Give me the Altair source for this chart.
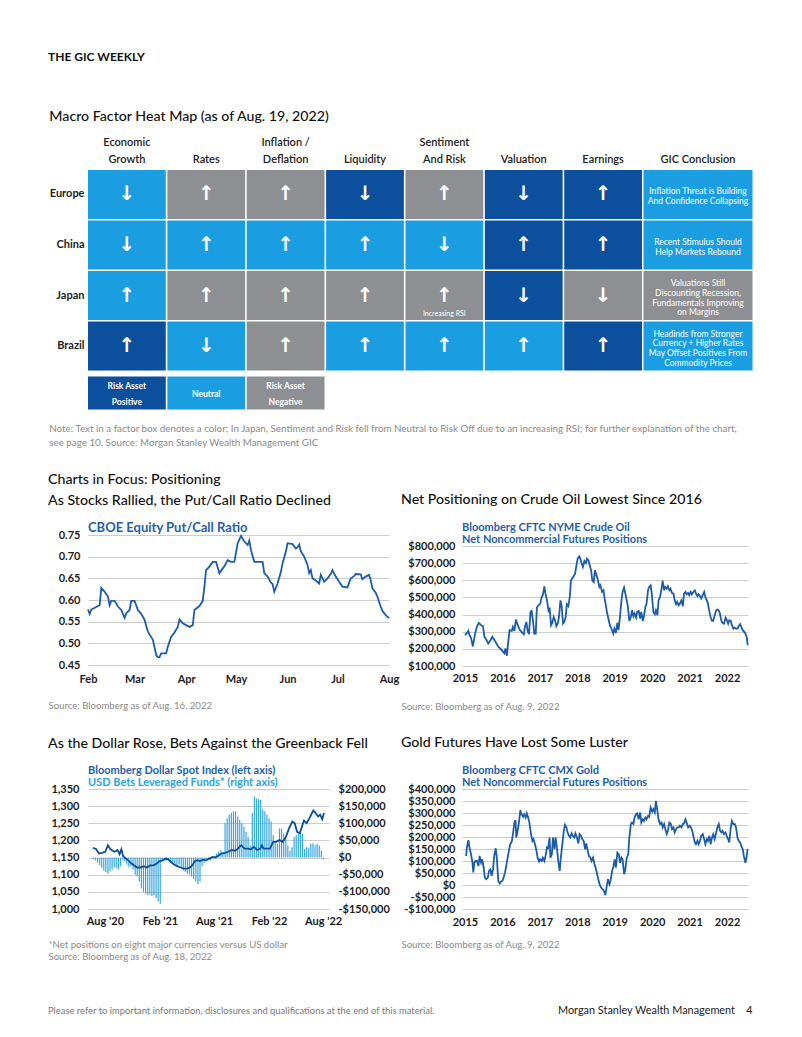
import altair as alt
import pandas as pd

DARK = "#0c4f9c"
LIGHT = "#1b9de2"
GRAY = "#8e8f93"
LINE = "#1d5ca8"
LEG = "#1f5fac"
FONT = "Lato"
NOTE_GRAY = "#8a8a8a"

# ---------------- Heat map ----------------
regions = ["Europe", "China", "Japan", "Brazil"]
factors = ["Economic|Growth", "Rates", "Inflation /|Deflation", "Liquidity",
           "Sentiment|And Risk", "Valuation", "Earnings"]
sig_europe = ["neu", "neg", "neg", "pos", "neg", "pos", "pos"]
sig_china = ["neu", "neu", "neu", "neu", "neu", "pos", "pos"]
sig_japan = ["neu", "neg", "neg", "neg", "neg", "pos", "neg"]
sig_brazil = ["pos", "neu", "neg", "neu", "neu", "neu", "pos"]
arr_europe = ["↓", "↑", "↑", "↓", "↑", "↓", "↑"]
arr_china = ["↓", "↑", "↑", "↑", "↓", "↑", "↑"]
arr_japan = ["↑", "↑", "↑", "↑", "↑", "↓", "↓"]
arr_brazil = ["↑", "↓", "↑", "↑", "↑", "↑", "↑"]
concl_signals = ["neu", "neu", "neg", "neu"]
conclusions = [
    "Inflation Threat is Building\nAnd Confidence Collapsing",
    "Recent  Stimulus Should\nHelp Markets Rebound",
    "Valuations Still\nDiscounting Recession,\nFundamentals Improving\non Margins",
    "Headinds from Stronger\nCurrency  + Higher Rates\nMay Offset Positives From\nCommodity Prices",
]
legend_labels = ["Risk Asset\nPositive", "Neutral", "Risk Asset\nNegative"]
legend_signals = ["pos", "neu", "neg"]
note_lines = [
    "Note: Text in a factor box denotes a color; In Japan, Sentiment and Risk fell from Neutral to Risk Off due to an increasing RSI; for further explanation of the chart,",
    "see page 10. Source: Morgan Stanley Wealth Management GIC",
]

rows = []
for r, sigs, arrs in zip(regions, [sig_europe, sig_china, sig_japan, sig_brazil],
                         [arr_europe, arr_china, arr_japan, arr_brazil]):
    for f, s, a in zip(factors, sigs, arrs):
        rows.append({"region": r, "factor": f, "signal": s, "arrow": a})
heat_df = pd.DataFrame(rows)
legend_df = pd.DataFrame({"region": ["legend"] * 3, "factor": factors[:3],
                          "signal": legend_signals, "label": legend_labels})
rsi_df = pd.DataFrame({"region": ["Japan"], "factor": ["Sentiment|And Risk"], "note": ["Increasing  RSI"]})
concl_df = pd.DataFrame({"region2": regions, "ccol": ["GIC Conclusion"] * 4,
                         "signal": concl_signals, "text": conclusions})
concl_df["lines"] = concl_df["text"].str.count("\n") + 1
legend_df["lines"] = legend_df["label"].str.count("\n") + 1

header_expr = "indexof(datum.label, '|') >= 0 ? split(datum.label, '|') : ['', datum.label]"
ydomain = regions + ["legend"]
color = alt.Color("signal:N", scale=alt.Scale(domain=["pos", "neu", "neg"], range=[DARK, LIGHT, GRAY]), legend=None)
xh = alt.X("factor:N", scale=alt.Scale(domain=factors, paddingInner=0.02, paddingOuter=0),
           axis=alt.Axis(orient="top", title=None, labelExpr=header_expr, labelAngle=0,
                         labelFontWeight=600, labelFontSize=11, labelLineHeight=17, labelPadding=23,
                         labelLimit=200, labelColor="#222"))
yh = alt.Y("region:N", scale=alt.Scale(domain=ydomain, paddingInner=0.03, paddingOuter=0),
           axis=alt.Axis(title=None, labelExpr="datum.label == 'legend' ? '' : datum.label",
                         labelFontWeight="bold", labelFontSize=11, labelPadding=4, labelColor="#222"))

cells = alt.Chart(heat_df).mark_rect().encode(x=xh, y=yh, color=color)
arrows = alt.Chart(heat_df).mark_text(font="DejaVu Sans", fontSize=20, fontWeight="bold", color="white").encode(
    x=xh, y=yh, text="arrow:N")
rsi = alt.Chart(rsi_df).mark_text(font=FONT, fontSize=7, color="white", dy=18).encode(x=xh, y=yh, text="note:N")
leg_rect = alt.Chart(legend_df).mark_rect(height=33, yOffset=-3.5).encode(x=xh, y=yh, color=color)
leg_text2 = alt.Chart(legend_df).transform_filter("datum.lines == 2").mark_text(
    font=FONT, fontSize=8.5, fontWeight="bold", color="white", lineBreak="\n", lineHeight=16, dy=-10.5
).encode(x=xh, y=yh, text="label:N")
leg_text1 = alt.Chart(legend_df).transform_filter("datum.lines == 1").mark_text(
    font=FONT, fontSize=8.5, fontWeight="bold", color="white", dy=-2.5
).encode(x=xh, y=yh, text="label:N")
factor_chart = alt.layer(cells, arrows, rsi, leg_rect, leg_text2, leg_text1).properties(width=554, height=251)

xc = alt.X("ccol:N", scale=alt.Scale(paddingInner=0, paddingOuter=0),
           axis=alt.Axis(orient="top", title=None, labelExpr=header_expr, labelAngle=0, labelFontWeight=600,
                         labelFontSize=11, labelLineHeight=17, labelPadding=23, labelColor="#222"))
yc = alt.Y("region2:N", scale=alt.Scale(domain=ydomain, paddingInner=0.03, paddingOuter=0), axis=None)
c_rect = alt.Chart(concl_df).mark_rect().encode(x=xc, y=yc, color=color)
c_text2 = alt.Chart(concl_df).transform_filter("datum.lines == 2").mark_text(
    font=FONT, fontSize=8.5, color="white", lineBreak="\n", lineHeight=9.8, dy=-3
).encode(x=xc, y=yc, text="text:N")
c_text4 = alt.Chart(concl_df).transform_filter("datum.lines == 4").mark_text(
    font=FONT, fontSize=8.5, color="white", lineBreak="\n", lineHeight=9.8, dy=-12.5
).encode(x=xc, y=yc, text="text:N")
concl_chart = alt.layer(c_rect, c_text2, c_text4).properties(width=109, height=251)

heat_inner = alt.hconcat(factor_chart, concl_chart, spacing=1.5,
                         title=alt.TitleParams(note_lines, orient="bottom", anchor="start", font=FONT, fontSize=9.8,
                                               fontWeight="normal", color=NOTE_GRAY, lineHeight=14, offset=3))
heat_block = alt.vconcat(heat_inner, title=alt.TitleParams("Macro Factor Heat Map (as of Aug. 19, 2022)",
                                                           anchor="start", font=FONT, fontSize=14.2,
                                                           fontWeight=500, color="#111", offset=12))

# ---------------- Put/Call ratio ----------------
pc_dates = ["2022-02-01", "2022-02-02", "2022-02-03", "2022-02-07", "2022-02-08", "2022-02-09", "2022-02-11",
            "2022-02-13", "2022-02-14", "2022-02-15", "2022-02-17", "2022-02-19", "2022-02-21", "2022-02-23",
            "2022-02-24", "2022-02-26", "2022-02-27", "2022-03-01", "2022-03-03", "2022-03-05", "2022-03-07",
            "2022-03-09", "2022-03-12", "2022-03-14", "2022-03-15", "2022-03-16", "2022-03-17", "2022-03-20",
            "2022-03-21", "2022-03-23", "2022-03-25", "2022-03-27", "2022-03-28", "2022-03-30", "2022-04-01",
            "2022-04-03", "2022-04-05", "2022-04-06", "2022-04-09", "2022-04-11", "2022-04-12", "2022-04-13",
            "2022-04-15", "2022-04-17", "2022-04-19", "2022-04-21", "2022-04-23", "2022-04-24", "2022-04-26",
            "2022-04-28", "2022-04-30", "2022-05-02", "2022-05-04", "2022-05-06", "2022-05-08", "2022-05-09",
            "2022-05-10", "2022-05-12", "2022-05-14", "2022-05-17", "2022-05-18", "2022-05-20", "2022-05-22",
            "2022-05-23", "2022-05-24", "2022-05-26", "2022-05-28", "2022-05-29", "2022-05-31", "2022-06-01",
            "2022-06-04", "2022-06-06", "2022-06-07", "2022-06-08", "2022-06-09", "2022-06-11", "2022-06-13",
            "2022-06-14", "2022-06-15", "2022-06-16", "2022-06-18", "2022-06-20", "2022-06-21", "2022-06-23",
            "2022-06-25", "2022-06-27", "2022-06-28", "2022-06-30", "2022-07-02", "2022-07-04", "2022-07-07",
            "2022-07-09", "2022-07-11", "2022-07-12", "2022-07-15", "2022-07-16", "2022-07-18", "2022-07-20",
            "2022-07-21", "2022-07-22", "2022-07-24", "2022-07-25", "2022-07-27", "2022-07-28", "2022-07-30",
            "2022-08-01"]
pc_values = [0.578, 0.568, 0.578, 0.586, 0.588, 0.628, 0.619, 0.608, 0.588, 0.598, 0.598, 0.585, 0.577, 0.559,
             0.569, 0.577, 0.598, 0.598, 0.577, 0.568, 0.554, 0.527, 0.508, 0.473, 0.468, 0.468, 0.477, 0.477,
             0.492, 0.515, 0.525, 0.538, 0.555, 0.546, 0.542, 0.538, 0.542, 0.577, 0.586, 0.598, 0.631, 0.669,
             0.677, 0.688, 0.688, 0.662, 0.673, 0.678, 0.692, 0.688, 0.688, 0.731, 0.748, 0.735, 0.727, 0.737,
             0.715, 0.688, 0.688, 0.688, 0.662, 0.654, 0.640, 0.637, 0.619, 0.638, 0.665, 0.685, 0.712, 0.731,
             0.729, 0.719, 0.722, 0.728, 0.712, 0.700, 0.681, 0.662, 0.669, 0.650, 0.645, 0.638, 0.658, 0.642,
             0.650, 0.660, 0.669, 0.654, 0.642, 0.631, 0.629, 0.650, 0.655, 0.660, 0.659, 0.648, 0.654, 0.658,
             0.646, 0.627, 0.617, 0.608, 0.585, 0.575, 0.565, 0.558]
pc_ticks = [0.45, 0.50, 0.55, 0.60, 0.65, 0.70, 0.75]

# ---------------- Crude oil positioning ----------------
oil_year = [2015.00, 2015.04, 2015.09, 2015.12, 2015.16, 2015.21, 2015.27, 2015.32, 2015.37, 2015.43, 2015.48,
            2015.52, 2015.57, 2015.62, 2015.68, 2015.73, 2015.79, 2015.84, 2015.89, 2015.94, 2016.00, 2016.05,
            2016.08, 2016.12, 2016.15, 2016.19, 2016.25, 2016.28, 2016.32, 2016.36, 2016.41, 2016.46, 2016.51,
            2016.57, 2016.60, 2016.64, 2016.67, 2016.71, 2016.75, 2016.78, 2016.82, 2016.85, 2016.89, 2016.92,
            2016.96, 2017.01, 2017.05, 2017.08, 2017.12, 2017.15, 2017.19, 2017.23, 2017.26, 2017.30, 2017.33,
            2017.37, 2017.41, 2017.44, 2017.48, 2017.51, 2017.55, 2017.58, 2017.62, 2017.65, 2017.69, 2017.72,
            2017.76, 2017.80, 2017.83, 2017.89, 2017.94, 2017.97, 2018.01, 2018.05, 2018.08, 2018.12, 2018.15,
            2018.19, 2018.23, 2018.26, 2018.30, 2018.33, 2018.37, 2018.40, 2018.44, 2018.47, 2018.54, 2018.59,
            2018.62, 2018.66, 2018.70, 2018.73, 2018.77, 2018.80, 2018.84, 2018.87, 2018.92, 2018.96, 2018.99,
            2019.03, 2019.07, 2019.10, 2019.14, 2019.18, 2019.21, 2019.25, 2019.28, 2019.32, 2019.35, 2019.39,
            2019.43, 2019.46, 2019.50, 2019.53, 2019.57, 2019.60, 2019.64, 2019.68, 2019.71, 2019.75, 2019.78,
            2019.82, 2019.85, 2019.89, 2019.92, 2019.96, 2019.99, 2020.03, 2020.07, 2020.10, 2020.14, 2020.17,
            2020.21, 2020.25, 2020.28, 2020.32, 2020.35, 2020.39, 2020.42, 2020.46, 2020.49, 2020.53, 2020.57,
            2020.60, 2020.64, 2020.67, 2020.71, 2020.74, 2020.78, 2020.82, 2020.85, 2020.89, 2020.92, 2020.96,
            2020.99, 2021.03, 2021.06, 2021.10, 2021.14, 2021.17, 2021.21, 2021.24, 2021.28, 2021.31, 2021.35,
            2021.39, 2021.42, 2021.46, 2021.49, 2021.53, 2021.56, 2021.60, 2021.63, 2021.67, 2021.71, 2021.74,
            2021.78, 2021.81, 2021.85, 2021.88, 2021.92, 2021.96, 2021.99, 2022.03, 2022.06, 2022.10, 2022.13,
            2022.17, 2022.20, 2022.24, 2022.28, 2022.31, 2022.35, 2022.38, 2022.42, 2022.46, 2022.49, 2022.53,
            2022.55]
oil_pos = [280, 290, 305, 280, 266, 215, 289, 332, 351, 338, 332, 270, 254, 231, 250, 270, 250, 231, 212, 202,
           188, 173, 202, 160, 231, 309, 305, 328, 305, 371, 338, 313, 299, 285, 328, 357, 309, 285, 416, 421,
           357, 289, 289, 441, 454, 464, 503, 513, 565, 522, 483, 425, 441, 338, 351, 386, 363, 332, 348, 386,
           483, 454, 348, 357, 386, 460, 449, 503, 600, 619, 639, 678, 726, 740, 726, 697, 678, 713, 701, 726,
           716, 687, 658, 600, 590, 658, 610, 561, 571, 532, 542, 493, 445, 406, 367, 338, 313, 289, 318, 293,
           351, 309, 386, 483, 532, 557, 526, 483, 449, 363, 386, 425, 390, 406, 382, 416, 421, 377, 416, 363,
           390, 445, 464, 542, 561, 571, 522, 416, 402, 425, 396, 483, 503, 551, 596, 542, 561, 551, 565, 542,
           551, 526, 522, 483, 460, 474, 454, 464, 483, 449, 522, 532, 518, 526, 513, 532, 518, 532, 542, 522,
           507, 518, 507, 493, 513, 532, 503, 483, 464, 416, 386, 363, 363, 396, 425, 429, 425, 406, 363, 351,
           347, 382, 371, 347, 367, 363, 338, 318, 324, 318, 318, 332, 344, 328, 309, 299, 289, 266, 221]

# ---------------- Gold positioning ----------------
gold_year = [2015.03, 2015.05, 2015.09, 2015.12, 2015.16, 2015.20, 2015.22, 2015.25, 2015.28, 2015.32, 2015.36,
             2015.39, 2015.43, 2015.46, 2015.50, 2015.53, 2015.57, 2015.61, 2015.64, 2015.68, 2015.71, 2015.75,
             2015.78, 2015.82, 2015.85, 2015.89, 2015.93, 2015.96, 2016.00, 2016.03, 2016.07, 2016.10, 2016.14,
             2016.18, 2016.21, 2016.25, 2016.28, 2016.32, 2016.35, 2016.37, 2016.40, 2016.44, 2016.48, 2016.51,
             2016.55, 2016.58, 2016.62, 2016.65, 2016.69, 2016.72, 2016.76, 2016.80, 2016.83, 2016.87, 2016.91,
             2016.94, 2016.98, 2017.01, 2017.05, 2017.08, 2017.12, 2017.15, 2017.19, 2017.22, 2017.26, 2017.28,
             2017.32, 2017.35, 2017.39, 2017.42, 2017.46, 2017.49, 2017.53, 2017.56, 2017.60, 2017.64, 2017.67,
             2017.71, 2017.74, 2017.78, 2017.81, 2017.85, 2017.88, 2017.92, 2017.95, 2017.99, 2018.03, 2018.06,
             2018.10, 2018.13, 2018.17, 2018.21, 2018.24, 2018.28, 2018.31, 2018.35, 2018.38, 2018.42, 2018.46,
             2018.49, 2018.53, 2018.56, 2018.60, 2018.64, 2018.68, 2018.71, 2018.75, 2018.78, 2018.82, 2018.86,
             2018.89, 2018.93, 2018.96, 2019.00, 2019.03, 2019.07, 2019.11, 2019.14, 2019.18, 2019.21, 2019.25,
             2019.28, 2019.32, 2019.36, 2019.39, 2019.43, 2019.46, 2019.50, 2019.53, 2019.57, 2019.60, 2019.64,
             2019.68, 2019.71, 2019.75, 2019.78, 2019.82, 2019.85, 2019.89, 2019.92, 2019.96, 2020.00, 2020.03,
             2020.07, 2020.10, 2020.14, 2020.17, 2020.21, 2020.25, 2020.28, 2020.32, 2020.35, 2020.39, 2020.42,
             2020.46, 2020.50, 2020.53, 2020.57, 2020.60, 2020.64, 2020.67, 2020.71, 2020.74, 2020.78, 2020.82,
             2020.85, 2020.89, 2020.92, 2020.96, 2021.00, 2021.03, 2021.07, 2021.10, 2021.14, 2021.17, 2021.21,
             2021.24, 2021.28, 2021.31, 2021.35, 2021.39, 2021.42, 2021.46, 2021.49, 2021.53, 2021.56, 2021.60,
             2021.63, 2021.67, 2021.71, 2021.74, 2021.78, 2021.81, 2021.85, 2021.88, 2021.92, 2021.96, 2021.99,
             2022.03, 2022.06, 2022.10, 2022.13, 2022.17, 2022.21, 2022.24, 2022.28, 2022.31, 2022.35, 2022.38,
             2022.42, 2022.45, 2022.49, 2022.52, 2022.55]
gold_pos = [121, 156, 187, 156, 128, 93, 52, 93, 100, 100, 79, 121, 93, 107, 72, 31, 24, 31, 59, 65, 38, 65,
            121, 153, 114, 17, 6, 14, 17, 31, 52, 79, 114, 149, 170, 181, 212, 260, 270, 198, 220, 260, 312, 295,
            284, 295, 281, 298, 279, 260, 215, 184, 191, 170, 142, 114, 98, 107, 100, 114, 100, 121, 156, 153,
            198, 114, 128, 198, 149, 198, 149, 100, 59, 114, 170, 226, 251, 240, 219, 205, 198, 215, 205, 198,
            215, 198, 173, 212, 205, 191, 184, 149, 173, 142, 121, 114, 100, 114, 86, 72, 45, 24, 0, -11, -18,
            -25, -42, -11, 24, 3, 20, 59, 75, 107, 72, 135, 128, 93, 114, 107, 45, 61, 114, 128, 198, 254, 260,
            254, 281, 295, 298, 274, 302, 260, 274, 267, 281, 274, 288, 284, 323, 306, 316, 302, 351, 309, 274,
            254, 260, 240, 254, 233, 212, 226, 260, 254, 233, 240, 219, 233, 240, 240, 247, 240, 254, 256, 274,
            260, 240, 247, 242, 226, 205, 177, 170, 184, 170, 184, 205, 212, 191, 170, 191, 184, 205, 170, 198,
            212, 191, 219, 240, 254, 228, 219, 226, 212, 219, 205, 191, 177, 240, 267, 254, 254, 240, 198, 184,
            177, 163, 149, 121, 93, 114, 150]

# ---------------- Dollar index & USD bets ----------------
dxy_dates = ["2020-07-06", "2020-07-16", "2020-07-26", "2020-08-05", "2020-08-16", "2020-08-25", "2020-09-01",
             "2020-09-09", "2020-09-17", "2020-09-26", "2020-10-03", "2020-10-09", "2020-10-15", "2020-10-24",
             "2020-11-01", "2020-11-10", "2020-11-21", "2020-12-01", "2020-12-12", "2020-12-23", "2021-01-02",
             "2021-01-13", "2021-01-24", "2021-02-03", "2021-02-14", "2021-02-25", "2021-03-07", "2021-03-16",
             "2021-03-24", "2021-04-03", "2021-04-14", "2021-04-25", "2021-05-05", "2021-05-16", "2021-05-27",
             "2021-06-03", "2021-06-12", "2021-06-20", "2021-06-29", "2021-07-09", "2021-07-19", "2021-07-30",
             "2021-08-10", "2021-08-20", "2021-08-31", "2021-09-11", "2021-09-21", "2021-10-02", "2021-10-13",
             "2021-10-24", "2021-11-03", "2021-11-14", "2021-11-25", "2021-12-05", "2021-12-16", "2021-12-27",
             "2022-01-06", "2022-01-17", "2022-01-22", "2022-01-28", "2022-02-07", "2022-02-18", "2022-03-01",
             "2022-03-11", "2022-03-22", "2022-04-02", "2022-04-13", "2022-04-23", "2022-05-04", "2022-05-12",
             "2022-05-20", "2022-05-29", "2022-06-05", "2022-06-12", "2022-06-21", "2022-07-02", "2022-07-13",
             "2022-07-21", "2022-07-29", "2022-08-05", "2022-08-12", "2022-08-18"]
dxy_values = [1178, 1175, 1162, 1164, 1167, 1186, 1176, 1170, 1167, 1172, 1160, 1174, 1154, 1147, 1142, 1134,
              1127, 1121, 1121, 1125, 1121, 1127, 1127, 1132, 1140, 1142, 1147, 1144, 1137, 1130, 1125, 1121,
              1118, 1118, 1121, 1127, 1140, 1142, 1140, 1144, 1142, 1147, 1152, 1150, 1157, 1162, 1164, 1167,
              1172, 1170, 1176, 1186, 1176, 1176, 1174, 1181, 1172, 1176, 1186, 1176, 1176, 1176, 1196, 1196,
              1201, 1196, 1211, 1235, 1255, 1250, 1225, 1221, 1240, 1258, 1250, 1268, 1287, 1280, 1270, 1275,
              1262, 1280]
bets_start = "2020-07-07"
usd_bets = [-5, -8, -15, -22, -30, -38, -42, -47, -40, -35, -28, -30, -35, -25, -5, -10, -20, -28, -25, -35,
            -50, -55, -70, -90, -100, -105, -110, -108, -112, -110, -118, -128, -135, -10, -5, -8, -10, -15,
            -18, -22, -25, -20, -30, -38, -42, -48, -50, -55, -62, -70, -78, -70, -25, -15, -10, -5, -8, -3, 5,
            12, 18, 22, 15, 100, 115, 125, 130, 135, 135, 120, 110, 100, 90, 75, 60, 35, 130, 178, 172, 170,
            168, 140, 135, 125, 115, 105, 65, 45, 40, 85, 85, 70, 55, 35, 20, 30, 60, 65, 70, 75, 70, 25, 30,
            28, 40, 42, 35, 40, 35, 20, -5]

pc_df = pd.DataFrame({"date": pc_dates, "ratio": pc_values})
oil_df = pd.DataFrame({"yr": oil_year, "oil": [v * 1000 for v in oil_pos]})
gold_df = pd.DataFrame({"yr": gold_year, "gold": [v * 1000 for v in gold_pos]})
dxy_df = pd.DataFrame({"date": dxy_dates, "idx": dxy_values})
bets_df = pd.DataFrame({"date": pd.date_range(bets_start, periods=len(usd_bets), freq="7D").strftime("%Y-%m-%d"),
                        "bets": [v * 1000 for v in usd_bets]})

money_expr = "(datum.value < 0 ? '-' : '') + '$' + format(abs(datum.value), ',')"


def heading(text):
    return alt.TitleParams(text, anchor="start", font=FONT, fontSize=14.2, fontWeight=500, color="#111", offset=14)


def legend_title(text, size=11, subtitle=None, offset=1):
    kw = dict(anchor="start", frame="group", font=FONT, fontSize=size, fontWeight="bold", color=LEG,
              lineHeight=12.5, offset=offset)
    if subtitle is not None:
        kw.update(subtitle=subtitle, subtitleFont=FONT, subtitleFontSize=size, subtitleFontWeight="bold",
                  subtitleColor="#2da3e2", subtitlePadding=1)
    return alt.TitleParams(text, **kw)


def source_axis(**kw):
    base = dict(labelFlush=False, grid=False, titleAlign="left", titleBaseline="top", titleAnchor="start")
    base.update(kw)
    return alt.Axis(**base)


# Put/Call chart
pc_chart = alt.Chart(pc_df).mark_line(color=LINE, strokeWidth=1.8).encode(
    x=alt.X("date:T",
            scale=alt.Scale(domain=[alt.DateTime(year=2022, month=2, date=1), alt.DateTime(year=2022, month=8, date=1)]),
            axis=source_axis(values=[alt.DateTime(year=2022, month=m, date=1) for m in range(2, 9)], format="%b",
                             labelPadding=8, title="Source: Bloomberg as of Aug. 16, 2022", titleX=-40, titleY=35)),
    y=alt.Y("ratio:Q", scale=alt.Scale(domain=[0.45, 0.75], nice=False, zero=False),
            axis=alt.Axis(values=pc_ticks, format=".2f", grid=True, labelPadding=8, title=None)),
).properties(width=301, height=130, title=legend_title("CBOE Equity Put/Call Ratio", size=13, offset=-6))

year_axis_vals = [2015, 2016, 2017, 2018, 2019, 2020, 2021, 2022]

# crude plot: the band above the $800,000 line is left free for the two-line label
oil_chart = alt.Chart(oil_df).mark_line(color=LINE, strokeWidth=1.8).encode(
    x=alt.X("yr:Q", scale=alt.Scale(domain=[2014.92, 2022.56], nice=False, zero=False),
            axis=source_axis(values=year_axis_vals, format="d", labelPadding=6,
                             title="Source: Bloomberg as of Aug. 9, 2022", titleX=-61, titleY=35)),
    y=alt.Y("oil:Q", scale=alt.Scale(domain=[100000, 864200], nice=False, zero=False),
            axis=alt.Axis(values=[100000 * i for i in range(1, 9)], labelExpr=money_expr, grid=True,
                          labelPadding=7, title=None)),
).properties(width=286, height=131,
             title=legend_title(["Bloomberg CFTC NYME Crude Oil", "Net Noncommercial Futures Positions"],
                                offset=-10))

gold_chart = alt.Chart(gold_df).mark_line(color=LINE, strokeWidth=1.8).encode(
    x=alt.X("yr:Q", scale=alt.Scale(domain=[2014.92, 2022.56], nice=False, zero=False),
            axis=source_axis(values=year_axis_vals, format="d", labelPadding=7,
                             title="Source: Bloomberg as of Aug. 9, 2022", titleX=-61, titleY=30)),
    y=alt.Y("gold:Q", scale=alt.Scale(domain=[-100000, 400000], nice=False, zero=False),
            axis=alt.Axis(values=[-100000 + 50000 * i for i in range(11)], labelExpr=money_expr, grid=True,
                          labelPadding=7, title=None)),
).properties(width=286, height=120,
             title=legend_title(["Bloomberg CFTC CMX Gold", "Net Noncommercial Futures Positions"], offset=-5))

dollar_x = alt.X("date:T",
                 scale=alt.Scale(domain=[alt.DateTime(year=2020, month=7, date=6),
                                         alt.DateTime(year=2022, month=8, date=18)]),
                 axis=source_axis(values=[alt.DateTime(year=2020, month=8, date=15),
                                          alt.DateTime(year=2021, month=2, date=15),
                                          alt.DateTime(year=2021, month=8, date=15),
                                          alt.DateTime(year=2022, month=2, date=15),
                                          alt.DateTime(year=2022, month=8, date=15)],
                                  format="%b '%y", labelPadding=6,
                                  title=["*Net positions on eight major currencies versus US dollar",
                                         "Source: Bloomberg as of Aug. 18, 2022"],
                                  titleLineHeight=12, titleX=-40, titleY=30))
bets_bars = alt.Chart(bets_df).mark_bar(width=1.2, color="#36a8e3").encode(
    x=dollar_x,
    y=alt.Y("bets:Q", scale=alt.Scale(domain=[-150000, 200000], nice=False, zero=False),
            axis=alt.Axis(orient="right", values=[-150000 + 50000 * i for i in range(8)], labelExpr=money_expr,
                          grid=False, labelPadding=9, title=None)),
)
dxy_line = alt.Chart(dxy_df).mark_line(color="#0d4e98", strokeWidth=1.8).encode(
    x=dollar_x,
    y=alt.Y("idx:Q", scale=alt.Scale(domain=[1000, 1350], nice=False, zero=False),
            axis=alt.Axis(orient="left", values=[1000 + 50 * i for i in range(8)], format=",d", grid=True,
                          labelPadding=9, title=None)),
)
dollar_chart = alt.layer(bets_bars, dxy_line).resolve_scale(y="independent").properties(
    width=241, height=120,
    title=legend_title("Bloomberg Dollar Spot Index (left axis)", subtitle="USD Bets Leveraged Funds* (right axis)",
                       offset=-5))

pc_w = alt.vconcat(pc_chart, title=heading("As Stocks Rallied, the Put/Call Ratio Declined"))
oil_w = alt.vconcat(oil_chart, title=heading("Net Positioning on Crude Oil Lowest Since 2016"))
dollar_w = alt.vconcat(dollar_chart, title=heading("As the Dollar Rose, Bets Against the Greenback Fell"))
gold_w = alt.vconcat(gold_chart, title=heading("Gold Futures Have Lost Some Luster"))

charts_grid = alt.concat(pc_w, oil_w, dollar_w, gold_w, columns=2, spacing={"row": 25, "column": 2},
                         title=alt.TitleParams("Charts in Focus: Positioning", anchor="start", font=FONT,
                                               fontSize=14.2, fontWeight=500, color="#111", offset=6))

page = alt.vconcat(heat_block, charts_grid, spacing=25,
                   title=alt.TitleParams("THE GIC WEEKLY", anchor="start", font=FONT, fontSize=12,
                                         fontWeight="bold", color="#111", offset=46))
f1 = alt.vconcat(page, title=alt.TitleParams(
    "Please refer to important information, disclosures and qualifications at the end of this material.",
    orient="bottom", anchor="start", font=FONT, fontSize=9.4, fontWeight="normal", color="#7a7a7a", offset=46))
f2 = alt.vconcat(f1, title=alt.TitleParams("Morgan Stanley Wealth Management\u00a0\u00a0\u00a0\u00a04",
                                           orient="bottom", anchor="end", font=FONT, fontSize=10.9,
                                           fontWeight="normal", color="#222", offset=-10))

chart = f2.properties(padding={"left": 40, "top": 42, "right": 5, "bottom": 5}).configure_view(
    strokeWidth=0
).configure_axis(
    labelFont=FONT, labelFontSize=11, labelFontWeight="bold", labelColor="#1d1d1d", domain=False, ticks=False,
    tickSize=0, gridColor="#cccccc", gridWidth=1, titleFont=FONT, titleFontSize=9.6, titleFontWeight="normal",
    titleColor=NOTE_GRAY
).configure_title(font=FONT)

chart.save("out.html", embed_options={"renderer": "svg", "actions": False})
